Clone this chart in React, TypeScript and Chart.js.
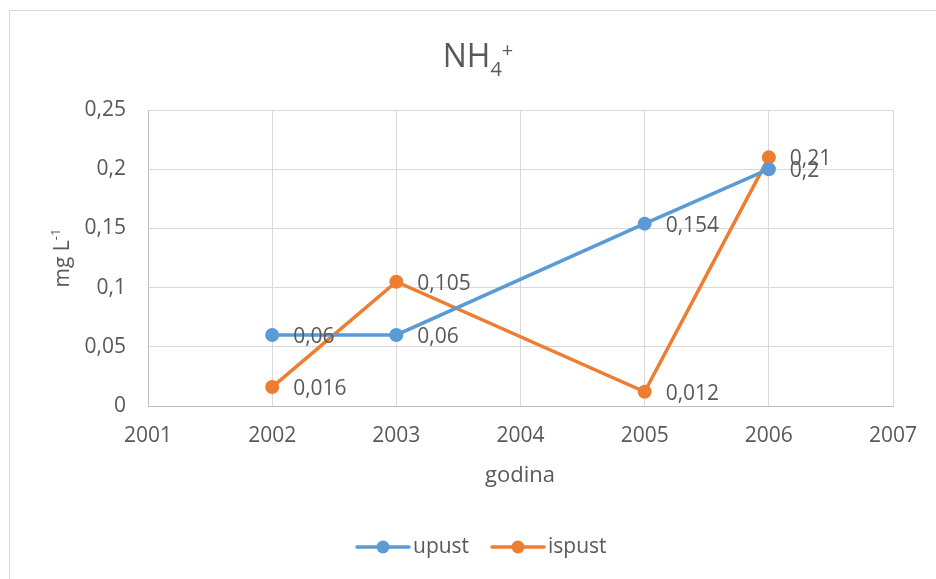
import React, { useEffect, useRef } from "react";
import { Chart, registerables } from "chart.js";

Chart.register(...registerables);

const years = [2002, 2003, 2005, 2006];
const upust = [0.06, 0.06, 0.154, 0.2];
const ispust = [0.016, 0.105, 0.012, 0.21];
const seriesNames = ["upust", "ispust"];
const seriesColors = ["#5B9BD5", "#ED7D31"];
const xTitle = "godina";

const FONT = "'Open Sans', sans-serif";
const TEXT = "#595959";

const fmt = (v: number) => String(Number(v.toFixed(3))).replace(".", ",");

const overlay = {
  id: "overlay",
  afterDraw(chart: any) {
    const ctx = chart.ctx as CanvasRenderingContext2D;
    ctx.save();
    // outer frame
    ctx.strokeStyle = "#d9d9d9";
    ctx.lineWidth = 1;
    ctx.strokeRect(9.5, 10.5, 1200, 1200);

    // data labels
    ctx.fillStyle = TEXT;
    ctx.font = `21px ${FONT}`;
    ctx.textAlign = "left";
    ctx.textBaseline = "middle";
    chart.data.datasets.forEach((ds: any, i: number) => {
      const meta = chart.getDatasetMeta(i);
      meta.data.forEach((pt: any, j: number) => {
        ctx.fillText(fmt(ds.data[j].y), pt.x + 21, pt.y + 2);
      });
    });

    // title NH4+
    ctx.textBaseline = "alphabetic";
    ctx.font = `32px ${FONT}`;
    const cx = 478;
    const wNH = ctx.measureText("NH").width;
    ctx.font = `20px ${FONT}`;
    const w4 = ctx.measureText("4").width;
    const wp = ctx.measureText("+").width;
    const total = wNH + w4 + wp;
    const x0 = cx - total / 2;
    ctx.font = `32px ${FONT}`;
    ctx.fillText("NH", x0, 67);
    ctx.font = `20px ${FONT}`;
    ctx.fillText("4", x0 + wNH, 76);
    ctx.fillText("+", x0 + wNH + w4, 57);

    // x title
    ctx.font = `22px ${FONT}`;
    ctx.textAlign = "center";
    ctx.textBaseline = "middle";
    ctx.fillText(xTitle, 520, 476);

    // y title rotated
    ctx.save();
    ctx.translate(69, 258);
    ctx.rotate(-Math.PI / 2);
    ctx.font = `21px ${FONT}`;
    const wMain = ctx.measureText("mg L").width;
    ctx.font = `13px ${FONT}`;
    const wSup = ctx.measureText("-1").width;
    const start = -(wMain + wSup) / 2;
    ctx.textAlign = "left";
    ctx.textBaseline = "alphabetic";
    ctx.font = `21px ${FONT}`;
    ctx.fillText("mg L", start, 0);
    ctx.font = `13px ${FONT}`;
    ctx.fillText("-1", start + wMain, -9);
    ctx.restore();

    // legend
    const legendY = 547;
    const items = [
      { x: 357, tx: 413 },
      { x: 492, tx: 548 },
    ];
    items.forEach((it, i) => {
      ctx.strokeStyle = seriesColors[i];
      ctx.lineWidth = 3.5;
      ctx.lineCap = "round";
      ctx.beginPath();
      ctx.moveTo(it.x, legendY);
      ctx.lineTo(it.x + 52, legendY);
      ctx.stroke();
      ctx.fillStyle = seriesColors[i];
      ctx.beginPath();
      ctx.arc(it.x + 26, legendY, 6.5, 0, Math.PI * 2);
      ctx.fill();
      ctx.fillStyle = TEXT;
      ctx.font = `21px ${FONT}`;
      ctx.textAlign = "left";
      ctx.textBaseline = "middle";
      ctx.fillText(seriesNames[i], it.tx, legendY);
    });
    ctx.restore();
  },
};

export default function App() {
  const ref = useRef<HTMLCanvasElement>(null);
  useEffect(() => {
    if (!ref.current) return;
    const mk = (vals: number[]) => years.map((x, i) => ({ x, y: vals[i] }));
    const chart = new Chart(ref.current, {
      type: "line",
      data: {
        datasets: [upust, ispust].map((vals, i) => ({
          label: seriesNames[i],
          data: mk(vals),
          borderColor: seriesColors[i],
          backgroundColor: seriesColors[i],
          borderWidth: 3.5,
          pointRadius: 7,
          pointHoverRadius: 7,
          pointBorderWidth: 0,
          tension: 0,
        })),
      },
      options: {
        responsive: false,
        animation: false,
        devicePixelRatio: 1,
        layout: { padding: { left: 0, top: 110, right: 43, bottom: 0 } },
        plugins: { legend: { display: false }, title: { display: false }, tooltip: { enabled: false } },
        scales: {
          x: {
            type: "linear",
            min: 2001,
            max: 2007,
            afterFit: (s: any) => { s.height = 579 - 406; },
            ticks: {
              stepSize: 1,
              callback: (v: any) => String(v),
              color: TEXT,
              font: { family: FONT, size: 21 },
              padding: 17,
              maxRotation: 0,
            },
            grid: { color: "#d9d9d9", drawTicks: false, lineWidth: 1 },
            border: { color: "#bfbfbf", width: 1 },
          },
          y: {
            min: 0,
            max: 0.25,
            afterFit: (s: any) => { s.width = 148; },
            ticks: {
              stepSize: 0.05,
              callback: (v: any) => fmt(Number(v)),
              color: TEXT,
              font: { family: FONT, size: 21 },
              padding: 22,
            },
            grid: { color: "#d9d9d9", drawTicks: false, lineWidth: 1 },
            border: { color: "#bfbfbf", width: 1 },
          },
        },
      },
      plugins: [overlay],
    } as any);
    return () => chart.destroy();
  }, []);
  return (
    <div style={{ position: "fixed", left: 0, top: 0, width: 936, height: 579, background: "#fff" }}>
      <canvas ref={ref} width={936} height={579} style={{ display: "block", width: 936, height: 579 }} />
    </div>
  );
}
